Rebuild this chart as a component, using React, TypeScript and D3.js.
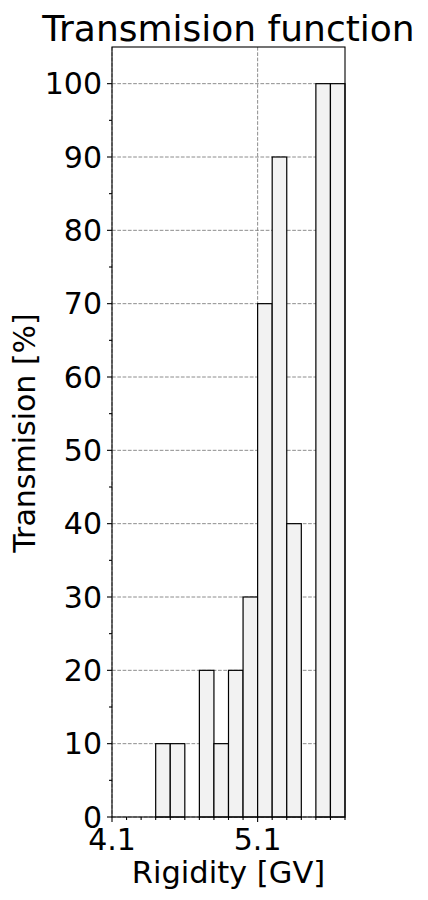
import * as d3 from "d3";
import { useEffect, useRef } from "react";

// rigidity bins (left edge, GV) and transmission in each bin
const binStart = [4.1, 4.2, 4.3, 4.4, 4.5, 4.6, 4.7, 4.8, 4.9, 5.0, 5.1, 5.2, 5.3, 5.4, 5.5, 5.6];
const transmission = [0, 0, 0, 10, 10, 0, 20, 10, 20, 30, 70, 90, 40, 0, 100, 100];
const binWidth = 0.1;

const xMajor = [4.1, 5.1];
const xMinor = [4.2, 4.3, 4.4, 4.5, 4.6, 4.7, 4.8, 4.9, 5.0, 5.2, 5.3, 5.4, 5.5, 5.6, 5.7];
const yMajor = [0, 10, 20, 30, 40, 50, 60, 70, 80, 90, 100];
const yMinor = [5, 15, 25, 35, 45, 55, 65, 75, 85, 95];

export default function App() {
  const svgRef = useRef<SVGSVGElement | null>(null);

  useEffect(() => {
    if (!svgRef.current) return;
    const width = 428;
    const height = 900;
    const m = { left: 112, right: 345, top: 47, bottom: 817 };
    const font = "'DejaVu Sans', sans-serif";

    const x = d3.scaleLinear().domain([4.1, 5.7]).range([m.left, m.right]);
    const y = d3.scaleLinear().domain([0, 105]).range([m.bottom, m.top]);

    const svg = d3.select(svgRef.current);
    svg.selectAll("*").remove();
    svg.attr("width", width).attr("height", height);

    svg.append("rect").attr("width", width).attr("height", height).attr("fill", "#fff");

    // grid
    const grid = svg.append("g").attr("stroke", "#808080").attr("stroke-width", 0.9).attr("stroke-dasharray", "3.7,1.6");
    grid
      .selectAll("line.h")
      .data(yMajor)
      .enter()
      .append("line")
      .attr("x1", m.left)
      .attr("x2", m.right)
      .attr("y1", (d) => y(d))
      .attr("y2", (d) => y(d));
    grid
      .selectAll("line.v")
      .data(xMajor)
      .enter()
      .append("line")
      .attr("x1", (d) => x(d))
      .attr("x2", (d) => x(d))
      .attr("y1", m.top)
      .attr("y2", m.bottom);

    // bars
    const bins = binStart.map((b, i) => ({ b, v: transmission[i] }));
    svg
      .append("g")
      .selectAll("rect")
      .data(bins.filter((d) => d.v > 0))
      .enter()
      .append("rect")
      .attr("x", (d) => x(d.b))
      .attr("width", (d) => x(d.b + binWidth) - x(d.b))
      .attr("y", (d) => y(d.v))
      .attr("height", (d) => y(0) - y(d.v))
      .attr("fill", "#f2f2f2")
      .attr("stroke", "#000")
      .attr("stroke-width", 1.2);

    // frame
    svg
      .append("rect")
      .attr("x", m.left)
      .attr("y", m.top)
      .attr("width", m.right - m.left)
      .attr("height", m.bottom - m.top)
      .attr("fill", "none")
      .attr("stroke", "#000")
      .attr("stroke-width", 1.1);

    // ticks
    const ticks = svg.append("g").attr("stroke", "#000").attr("stroke-width", 1.1);
    ticks.selectAll("line.xM").data(xMajor).enter().append("line")
      .attr("x1", (d) => x(d)).attr("x2", (d) => x(d))
      .attr("y1", m.bottom).attr("y2", m.bottom + 5);
    ticks.selectAll("line.xm").data(xMinor).enter().append("line")
      .attr("x1", (d) => x(d)).attr("x2", (d) => x(d))
      .attr("y1", m.bottom).attr("y2", m.bottom + 3);
    ticks.selectAll("line.yM").data(yMajor).enter().append("line")
      .attr("x1", m.left - 5).attr("x2", m.left)
      .attr("y1", (d) => y(d)).attr("y2", (d) => y(d));
    ticks.selectAll("line.ym").data(yMinor).enter().append("line")
      .attr("x1", m.left - 3).attr("x2", m.left)
      .attr("y1", (d) => y(d)).attr("y2", (d) => y(d));

    // tick labels
    svg.append("g").selectAll("text").data(xMajor).enter().append("text")
      .attr("x", (d) => x(d))
      .attr("y", 850)
      .attr("text-anchor", "middle")
      .attr("font-family", font)
      .attr("font-size", 30)
      .text((d) => d.toFixed(1));
    svg.append("g").selectAll("text").data(yMajor).enter().append("text")
      .attr("x", m.left - 10)
      .attr("y", (d) => y(d))
      .attr("dy", "0.36em")
      .attr("text-anchor", "end")
      .attr("font-family", font)
      .attr("font-size", 30)
      .text((d) => String(d));

    // labels
    svg.append("text")
      .attr("x", (m.left + m.right) / 2)
      .attr("y", 883)
      .attr("text-anchor", "middle")
      .attr("font-family", font)
      .attr("font-size", 30.5)
      .text("Rigidity [GV]");
    svg.append("text")
      .attr("transform", `translate(35,433) rotate(-90)`)
      .attr("text-anchor", "middle")
      .attr("font-family", font)
      .attr("font-size", 30)
      .text("Transmision [%]");
    svg.append("text")
      .attr("x", (m.left + m.right) / 2)
      .attr("y", 41)
      .attr("text-anchor", "middle")
      .attr("font-family", font)
      .attr("font-size", 36)
      .text("Transmision function");
  }, []);

  return (
    <div style={{ margin: -8 }}>
      <svg ref={svgRef} style={{ display: "block" }} />
    </div>
  );
}
